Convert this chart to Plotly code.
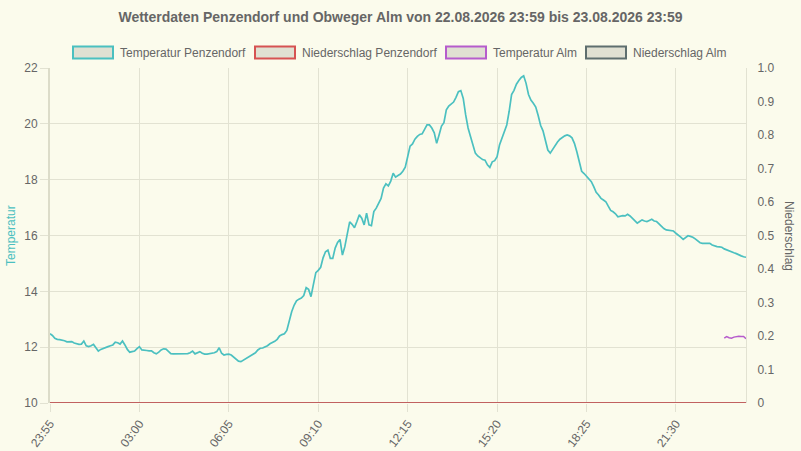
import plotly.graph_objects as go
import pandas as pd

# 5-minuten-werte, 22.08. 23:55 bis 23.08. 23:55
zeit = pd.date_range("2026-08-22 23:55", periods=289, freq="5min")
tick_text = ["23:55", "03:00", "06:05", "09:10", "12:15", "15:20", "18:25", "21:30"]

temp_penzendorf = [
    12.48, 12.42, 12.32, 12.28, 12.27, 12.26, 12.23, 12.19, 12.2, 12.2,
    12.15, 12.12, 12.1, 12.11, 12.22, 12.05, 12.02, 12.05, 12.1, 11.98,
    11.86, 11.92, 11.96, 11.99, 12.02, 12.05, 12.08, 12.18, 12.16, 12.11,
    12.22, 12.08, 11.92, 11.82, 11.84, 11.86, 11.95, 12.02, 11.9, 11.88,
    11.88, 11.87, 11.87, 11.8, 11.76, 11.82, 11.9, 11.94, 11.93, 11.85,
    11.77, 11.76, 11.76, 11.76, 11.75, 11.76, 11.77, 11.77, 11.8, 11.86,
    11.76, 11.8, 11.84, 11.78, 11.75, 11.75, 11.76, 11.77, 11.8, 11.84,
    11.98, 11.78, 11.72, 11.74, 11.75, 11.72, 11.64, 11.55, 11.5, 11.48,
    11.53, 11.58, 11.63, 11.68, 11.74, 11.8, 11.9, 11.96, 11.97, 12.0,
    12.05, 12.12, 12.16, 12.21, 12.28, 12.4, 12.45, 12.48, 12.6, 12.95,
    13.27, 13.5, 13.66, 13.72, 13.76, 13.85, 14.13, 14.07, 13.81, 14.25,
    14.67, 14.75, 14.86, 15.2, 15.42, 15.48, 15.18, 15.18, 15.55, 15.75,
    15.86, 15.3, 15.6, 16.05, 16.49, 16.4, 16.28, 16.5, 16.74, 16.62,
    16.38, 16.8, 16.38, 16.35, 16.86, 16.98, 17.15, 17.33, 17.7, 17.85,
    17.78, 17.95, 18.23, 18.09, 18.15, 18.2, 18.3, 18.45, 18.82, 19.2,
    19.28, 19.45, 19.55, 19.62, 19.64, 19.8, 19.96, 19.96, 19.85, 19.68,
    19.3, 19.6, 19.92, 20.04, 20.5, 20.64, 20.7, 20.78, 20.95, 21.15,
    21.19, 20.91, 20.32, 19.85, 19.55, 19.2, 18.95, 18.85, 18.77, 18.72,
    18.7, 18.53, 18.44, 18.64, 18.68, 18.82, 19.24, 19.5, 19.75, 19.96,
    20.45, 21.05, 21.2, 21.42, 21.55, 21.66, 21.72, 21.45, 21.05, 20.85,
    20.74, 20.6, 20.3, 19.95, 19.75, 19.36, 19.06, 18.95, 19.1, 19.25,
    19.35, 19.45, 19.52, 19.57, 19.6, 19.57, 19.5, 19.3, 19.0, 18.6,
    18.3, 18.22, 18.11, 18.0, 17.93, 17.75, 17.55, 17.45, 17.33, 17.27,
    17.21, 17.05, 16.9, 16.85, 16.78, 16.67, 16.7, 16.71, 16.7, 16.76,
    16.7, 16.62, 16.52, 16.44, 16.5, 16.56, 16.52, 16.5, 16.54, 16.58,
    16.52, 16.5, 16.42, 16.32, 16.25, 16.2, 16.18, 16.17, 16.16, 16.08,
    16.02, 15.94, 15.86, 15.92, 15.99, 15.97, 15.94, 15.88, 15.8, 15.74,
    15.72, 15.72, 15.73, 15.72, 15.66, 15.62, 15.6, 15.59, 15.58, 15.52,
    15.48, 15.45, 15.42, 15.38, 15.35, 15.3, 15.27, 15.24, 15.22,
]

# Alm liefert erst ab ca. 23:10 werte
temp_alm = [None] * 279 + [12.32, 12.38, 12.34, 12.32, 12.36, 12.38, 12.39, 12.38, 12.38, 12.3]

regen_penzendorf = [0.0] * len(zeit)
regen_alm = [0.0] * len(zeit)

farben = {
    "Temperatur Penzendorf": "#4bc0c0",
    "Niederschlag Penzendorf": "#d65252",
    "Temperatur Alm": "#b65ccc",
    "Niederschlag Alm": "#5e6e6e",
}
grid = "#e2e2d2"
textfarbe = "#666666"
bg = "#fbfbec"

fig = go.Figure()
# reihenfolge wie bei chart.js: erster datensatz liegt oben
fig.add_trace(go.Scatter(x=zeit, y=regen_alm, name="Niederschlag Alm", yaxis="y2",
                         mode="lines", line=dict(color=farben["Niederschlag Alm"], width=1.5)))
fig.add_trace(go.Scatter(x=zeit, y=temp_alm, name="Temperatur Alm",
                         mode="lines", line=dict(color=farben["Temperatur Alm"], width=1.5)))
fig.add_trace(go.Scatter(x=zeit, y=regen_penzendorf, name="Niederschlag Penzendorf", yaxis="y2",
                         mode="lines", line=dict(color=farben["Niederschlag Penzendorf"], width=1.5)))
fig.add_trace(go.Scatter(x=zeit, y=temp_penzendorf, name="Temperatur Penzendorf",
                         mode="lines", line=dict(color=farben["Temperatur Penzendorf"], width=1.7)))

fig.update_layout(
    width=801, height=451,
    margin=dict(l=50, r=55, t=68, b=48, autoexpand=False),
    paper_bgcolor=bg, plot_bgcolor=bg,
    showlegend=False,
    font=dict(family="Liberation Sans, Arial, sans-serif", size=12, color=textfarbe),
    title=dict(text="<b>Wetterdaten Penzendorf und Obweger Alm von 22.08.2026 23:59 bis 23.08.2026 23:59</b>",
               x=0.5, xanchor="center", y=1 - 17 / 451, yanchor="middle",
               font=dict(size=14, color=textfarbe)),
    xaxis=dict(
        type="date", range=[zeit[0], zeit[-1]], automargin=False,
        tickvals=list(zeit[::37]), ticktext=tick_text, tickangle=-53,
        showgrid=True, gridcolor=grid, gridwidth=1,
        ticks="outside", ticklen=8, tickcolor=grid,
        showline=False, zeroline=False,
    ),
    yaxis=dict(
        range=[10, 22], dtick=2, automargin=False,
        showgrid=True, gridcolor=grid,
        ticks="outside", ticklen=8, tickcolor=grid,
        showline=True, linecolor="#dcdcc9", linewidth=2, zeroline=False,
    ),
    yaxis2=dict(
        overlaying="y", side="right", range=[0, 1], automargin=False,
        tickvals=[0, 0.1, 0.2, 0.3, 0.4, 0.5, 0.6, 0.7, 0.8, 0.9, 1.0],
        ticktext=["0", "0.1", "0.2", "0.3", "0.4", "0.5", "0.6", "0.7", "0.8", "0.9", "1.0"],
        showgrid=False, zeroline=False,
        showline=True, linecolor=grid, linewidth=1,
        ticks="outside", ticklen=8, tickcolor=bg,
    ),
)


# pixel -> paper koordinaten der zeichenflaeche (50..746, 68..403)
def px(x):
    return (x - 50) / 696


def py(y):
    return (403 - y) / 335


# legende im chart.js stil: kaestchen mit farbigem rand
legende = [("Temperatur Penzendorf", 73), ("Niederschlag Penzendorf", 255),
           ("Temperatur Alm", 446), ("Niederschlag Alm", 586)]
for name, x0 in legende:
    fig.add_shape(type="rect", xref="paper", yref="paper",
                  x0=px(x0), x1=px(x0 + 40), y0=py(58.5), y1=py(46.5),
                  fillcolor="#e0e0d2", line=dict(color=farben[name], width=2))
    fig.add_annotation(text=name, xref="paper", yref="paper", x=px(x0 + 45), y=py(52.5),
                       xanchor="left", yanchor="middle", showarrow=False,
                       font=dict(size=12, color=textfarbe))

fig.add_annotation(text="Temperatur", xref="paper", yref="paper", x=px(11), y=py(236),
                   textangle=-90, showarrow=False, xanchor="center", yanchor="middle",
                   font=dict(size=12, color=farben["Temperatur Penzendorf"]))
fig.add_annotation(text="Niederschlag", xref="paper", yref="paper", x=px(789), y=py(236),
                   textangle=90, showarrow=False, xanchor="center", yanchor="middle",
                   font=dict(size=12, color=textfarbe))

# body-rand des browsers weg, sonst sitzt die grafik 8px versetzt
fig.write_html("out.html", config={"displayModeBar": False},
               post_script="document.body.style.margin = '0';")
